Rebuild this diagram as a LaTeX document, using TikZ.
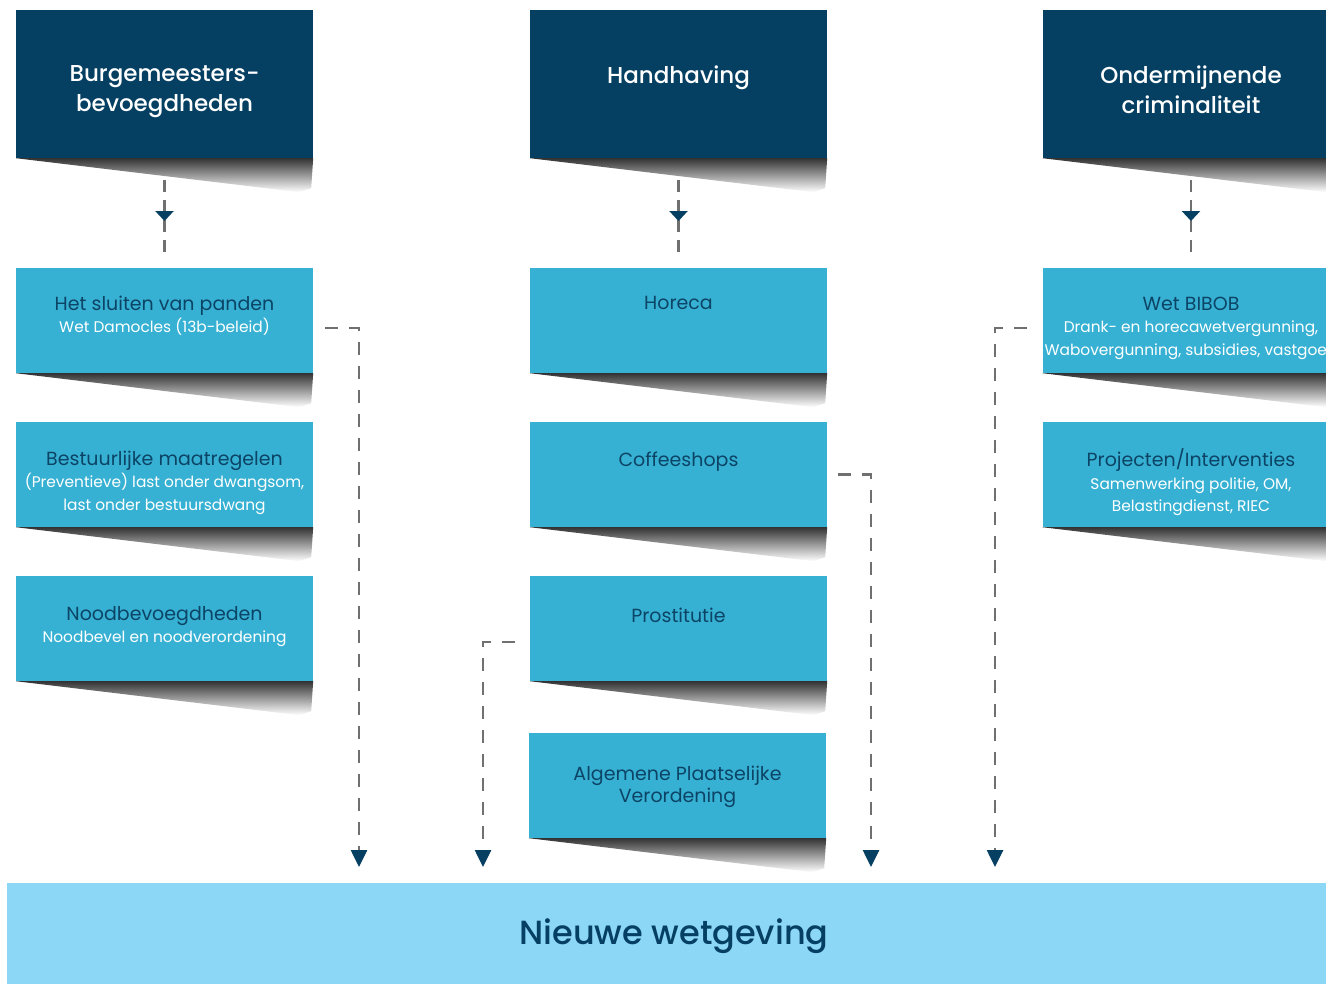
\documentclass[tikz,border=0pt]{standalone}
\usepackage{fontspec}
\setmainfont{Poppins}
\newfontfamily\medfont{Poppins Medium}
\usepackage{tikz}
\usetikzlibrary{positioning, arrows.meta, decorations.markings}

\definecolor{navy}{HTML}{053F61}
\definecolor{cyanbox}{HTML}{37B1D3}
\definecolor{lightbar}{HTML}{8CD7F5}
\definecolor{dashgrey}{HTML}{707070}
\definecolor{ttlcol}{HTML}{0C4466}

\newcommand{\ttl}[1]{{\color{ttlcol}\fontsize{19}{23}\selectfont #1}}
\newcommand{\sbt}[1]{{\fontsize{15.4}{22}\selectfont #1}}

\begin{document}
\begin{tikzpicture}[x=1pt, y=-1pt,
    head/.style={fill=navy, minimum width=297pt, minimum height=148pt, inner sep=0pt},
    headtext/.style={text=white, align=center, inner sep=0pt,
      font=\medfont\fontsize{23}{30}\selectfont},
    item/.style={fill=cyanbox, minimum width=297pt, minimum height=105pt, inner sep=0pt},
    itemtext/.style={text=white, align=center, inner sep=0pt,
      font=\fontsize{15.4}{22.5}\selectfont},
    dashline/.style={draw=dashgrey, line width=2.6pt, dash pattern=on 13pt off 11pt},
    shortdash/.style={dash pattern=on 12pt off 8pt},
    midtip/.style={postaction={decorate}, decoration={markings,
      mark=at position 0.57 with {\arrow{Triangle[width=18pt,length=10pt,color=navy]}}}},
    endtip/.style={-{Triangle[width=16pt,length=17pt,color=navy]}}]
    \useasboundingbox (0,0) rectangle (1326,984);
    \clip (0,0) rectangle (1326,984);
    % headers
    \node[head] (01) at (164.5,84) {};
    \node[head] (02) at (678.5,84) {};
    \node[head] (03) at (1191,84) {};
    \node[headtext, below=56pt of 01.north] (t01) {Burgemeesters-\\bevoegdheden};
    \node[headtext, below=56pt of 02.north] (t02) {Handhaving};
    \node[headtext, below=56pt of 03.north] (t03) {Ondermijnende\\criminaliteit};
    % items
    \node[item] (11) at (164.5,320.5) {};
    \node[item] (21) at (164.5,474.5) {};
    \node[item] (31) at (164.5,628.5) {};
    \node[item] (12) at (678.5,320.5) {};
    \node[item] (22) at (678.5,474.5) {};
    \node[item] (32) at (678.5,628.5) {};
    \node[item] (42) at (677.5,785.5) {};
    \node[item] (13) at (1191,320.5) {};
    \node[item] (23) at (1191,474.5) {};
    \node[itemtext, below=28pt of 11.north] (t11) {\ttl{Het sluiten van panden}\\\sbt{Wet Damocles (13b-beleid)}};
    \node[itemtext, below=29pt of 21.north] (t21) {\ttl{Bestuurlijke maatregelen}\\\sbt{(Preventieve) last onder dwangsom,}\\\sbt{last onder bestuursdwang}};
    \node[itemtext, below=30pt of 31.north] (t31) {\ttl{Noodbevoegdheden}\\\sbt{Noodbevel en noodverordening}};
    \node[itemtext, below=28pt of 12.north] (t12) {\ttl{Horeca}};
    \node[itemtext, below=30pt of 22.north] (t22) {\ttl{Coffeeshops}};
    \node[itemtext, below=32pt of 32.north] (t32) {\ttl{Prostitutie}};
    \node[itemtext, below=33pt of 42.north] (t42) {\ttl{Algemene Plaatselijke}\\\ttl{Verordening}};
    \node[itemtext, below=29pt of 13.north] (t13) {\ttl{Wet BIBOB}\\\sbt{Drank- en horecawetvergunning,}\\\sbt{Wabovergunning, subsidies, vastgoed}};
    \node[itemtext, below=27pt of 23.north] (t23) {\ttl{Projecten/Interventies}\\\sbt{Samenwerking politie, OM,}\\\sbt{Belastingdienst, RIEC}};
    % shadows
    \foreach \n in {01,02,03,11,21,31,12,22,32,42,13,23}
      \shade[top color=black!80, bottom color=white]
        (\n.south west) -- (\n.south east) -- ++(-2,30) -- ++(-12,4) -- cycle;
    % bottom bar
    \node[fill=lightbar, minimum width=1334pt, minimum height=101pt, inner sep=0pt] (bar) at (674,933.5) {};
    \node[text=navy, inner sep=0pt, font=\medfont\fontsize{33.5}{40}\selectfont,
      yshift=-3pt] (tbar) at (bar) {Nieuwe wetgeving};
    % header arrows
    \foreach \n in {1,2,3}
      \draw[dashline, shortdash, midtip] ([yshift=-22pt]0\n.south) -- ([yshift=16pt]1\n.north);
    % side arrows
    \coordinate (e1) at (359,867);
    \coordinate (e2) at (871,867);
    \coordinate (e3) at (483,867);
    \coordinate (e4) at (995,867);
    \draw[dashline, endtip] ([xshift=12pt,yshift=-7.5pt]11.east) -| (e1);
    \draw[dashline, endtip] ([xshift=11pt]22.east) -| (e2);
    \draw[dashline, endtip] ([xshift=-15pt,yshift=-13.5pt]32.west) -| (e3);
    \draw[dashline, endtip] ([xshift=-15.5pt,yshift=-7.5pt]13.west) -| (e4);
\end{tikzpicture}
\end{document}
